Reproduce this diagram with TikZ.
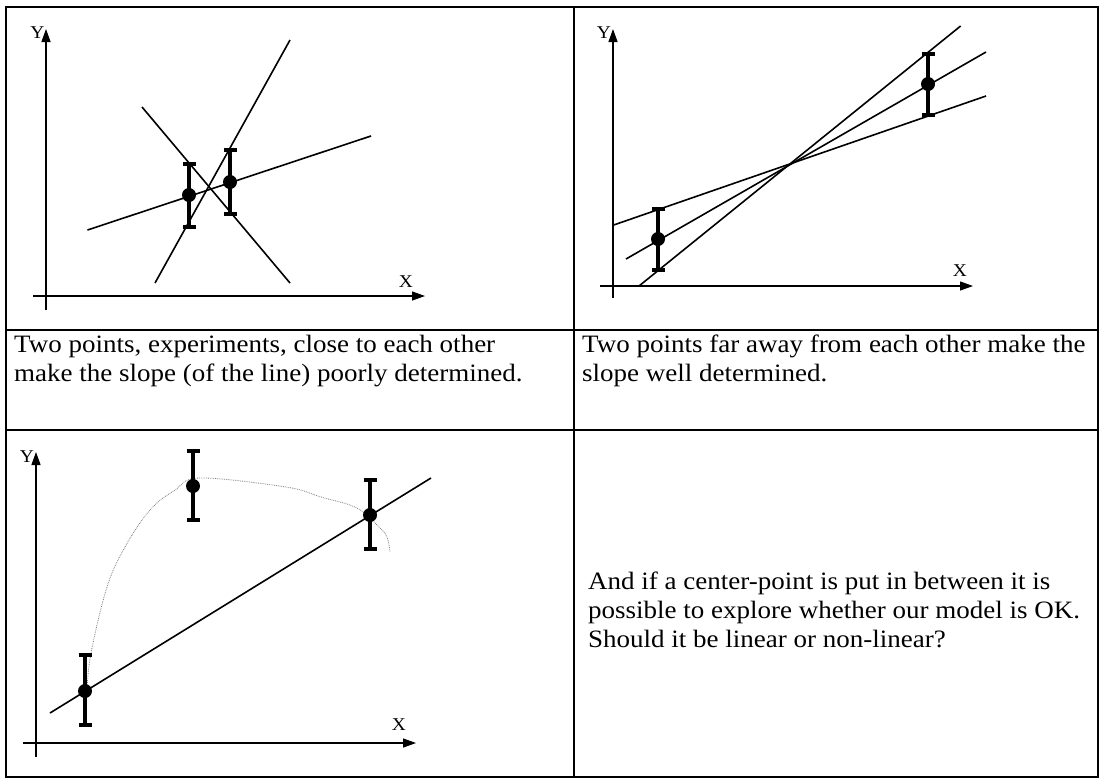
\documentclass[tikz,border=0pt]{standalone}
\usepackage{fontspec}
\setmainfont[FakeStretch=1.08]{Liberation Serif}
\usetikzlibrary{arrows.meta}

\begin{document}
\begin{tikzpicture}[x=1pt, y=-1pt,
  grid/.style={line width=2.6pt},
  axis/.style={line width=1.3pt, -{Triangle[length=13pt,width=9pt]}},
  fitline/.style={line width=1.6pt},
  ebar/.style={line width=4.2pt, {Bar[width=13pt]}-{Bar[width=13pt]}},
  lbl/.style={font=\fontsize{18}{20}\selectfont, inner sep=0pt},
  txt/.style={font=\fontsize{25}{28.7}\selectfont, align=left, anchor=north west, inner sep=0pt}
]
\useasboundingbox (0,0) rectangle (1103,780);
% table
\draw[grid] (6,7) rectangle (1098,777);
\draw[grid] (574,7) -- (574,777);
\draw[grid] (6,330) -- (1098,330);
\draw[grid] (6,430) -- (1098,430);

% close points
\draw[axis] (46,310) -- (46,29);
\draw[axis] (33,296) -- (425,296);
\node[lbl] (ya) at (37.5,33) {Y};
\node[lbl] (xa) at (406,282) {X};
\draw[fitline] (87.5,230) -- (371,136);
\draw[fitline] (155,283) -- (290,40);
\draw[fitline] (142,107) -- (290,283);
\draw[ebar] (189,229) -- (189,162);
\draw[ebar] (230,216) -- (230,148);
\fill (189,195) circle[radius=7pt];
\fill (230,182) circle[radius=7pt];

% far points
\draw[axis] (613,298) -- (613,29);
\draw[axis] (600,286) -- (973,286);
\node[lbl] (yb) at (604,33) {Y};
\node[lbl] (xb) at (960,271) {X};
\draw[fitline] (613.7,225) -- (986,96);
\draw[fitline] (626,259) -- (986,52);
\draw[fitline] (639,286) -- (960.6,26);
\draw[ebar] (658,272) -- (658,207);
\draw[ebar] (928,117) -- (928,52);
\fill (658,239) circle[radius=7pt];
\fill (928,84) circle[radius=7pt];

% captions
\node[txt] (capa) at (14,335) {Two points, experiments, close to each other\\make the slope (of the line) poorly determined.};
\node[txt] (capb) at (582,335) {Two points far away from each other make the\\slope well determined.};

% center point
\draw[axis] (36,757) -- (36,452);
\draw[axis] (23,743) -- (416,743);
\node[lbl] (yc) at (27,457) {Y};
\node[lbl] (xc) at (399,725) {X};
\draw[gray, line width=0.8pt, densely dotted] plot[smooth, tension=0.6] coordinates
  {(87,690) (91,653) (107,587) (125,547) (150,510) (175,490) (200,478) (286,487) (321,497) (357,508) (379,527) (387,537) (390,552)};
\draw[fitline] (50,713) -- (431,478);
\draw[ebar] (85,727) -- (85,653);
\draw[ebar] (193,522) -- (193,449);
\draw[ebar] (370,551) -- (370,478);
\fill (85,691) circle[radius=7pt];
\fill (193,486) circle[radius=7pt];
\fill (370,515) circle[radius=7pt];

\node[txt] (capc) at (588,572) {And if a center-point is put in between it is\\possible to explore whether our model is OK.\\Should it be linear or non-linear?};
\end{tikzpicture}
\end{document}
